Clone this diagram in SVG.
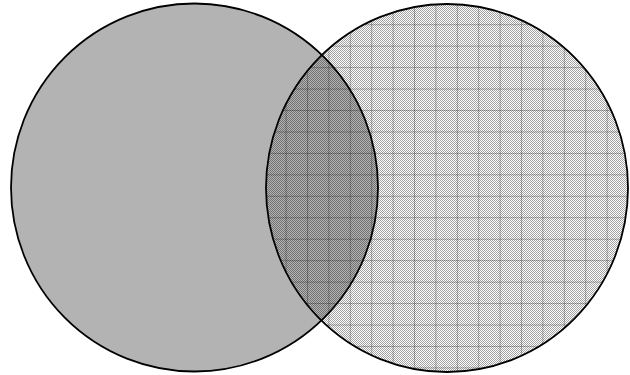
<svg xmlns="http://www.w3.org/2000/svg" width="630" height="375" viewBox="0 0 630 375">
  <style>
    .outline { fill: none; stroke: #000; stroke-width: 1.8; }
  </style>
  <defs>
    <pattern id="checker" patternUnits="userSpaceOnUse" x="0" y="0" width="2" height="2">
      <rect x="0" y="0" width="1" height="1" fill="#000" fill-opacity="0.36"/>
      <rect x="1" y="1" width="1" height="1" fill="#000" fill-opacity="0.36"/>
    </pattern>
    <pattern id="grid" patternUnits="userSpaceOnUse" x="7.4" y="2.75" width="21.4" height="21.45">
      <rect x="0" y="0" width="1" height="21.45" fill="#000" fill-opacity="0.26"/>
      <rect x="0" y="0" width="21.4" height="1" fill="#000" fill-opacity="0.26"/>
    </pattern>
  </defs>
  <rect width="630" height="375" fill="#fff"/>
  <g id="left-set">
    <ellipse cx="194.5" cy="187.5" rx="183.5" ry="184" fill="#b3b3b3"/>
    <ellipse class="outline" cx="194.5" cy="187.5" rx="183.5" ry="184"/>
  </g>
  <g id="right-set">
    <ellipse cx="447" cy="188" rx="181" ry="184" fill="url(#checker)"/>
    <ellipse cx="447" cy="188" rx="181" ry="184" fill="url(#grid)"/>
    <ellipse class="outline" cx="447" cy="188" rx="181" ry="184"/>
  </g>
  <g id="connectors"/>
</svg>
